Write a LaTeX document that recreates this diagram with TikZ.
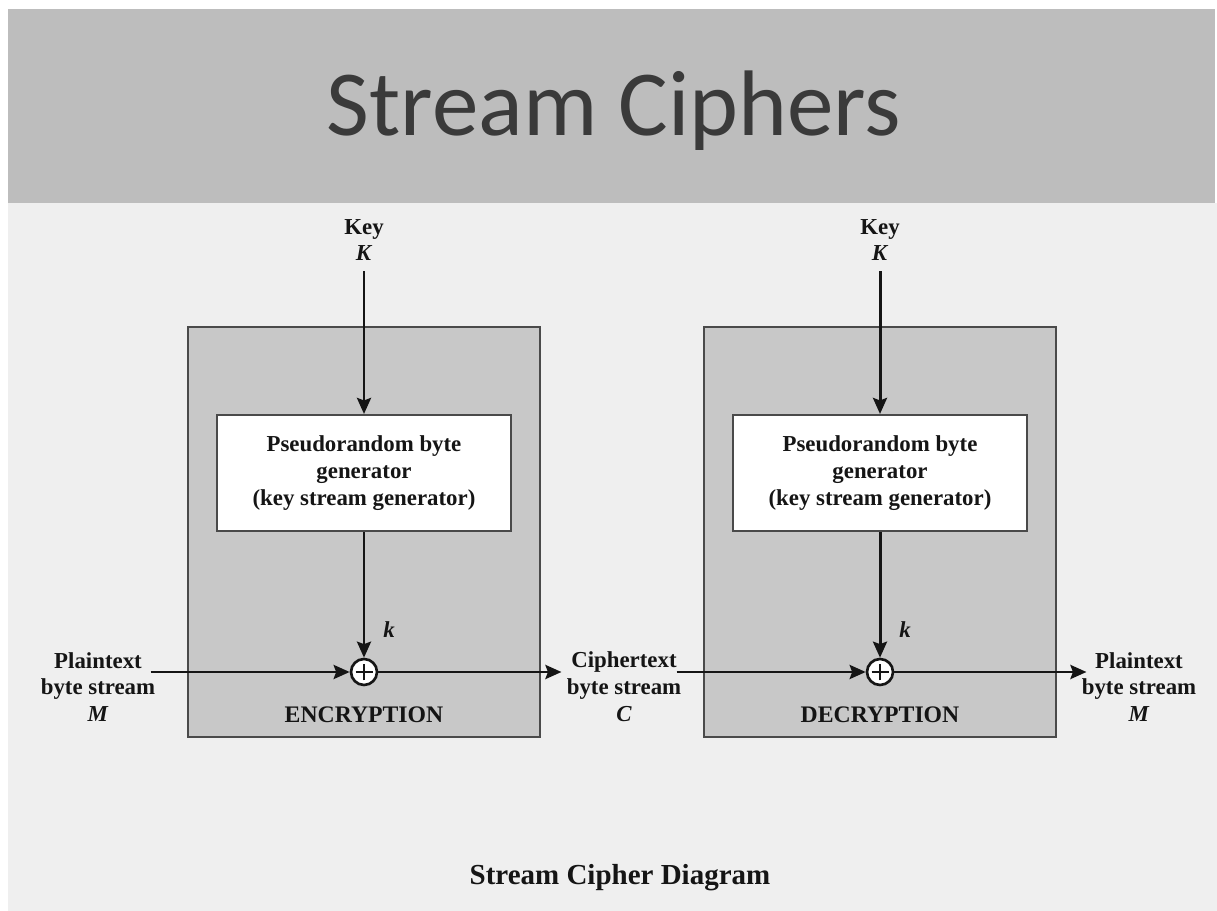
\documentclass[tikz,border=0pt]{standalone}
\usepackage{fontspec}
\setmainfont{Liberation Serif}
\newfontfamily\titlefont{Carlito}
\usetikzlibrary{arrows.meta}

\definecolor{headgray}{HTML}{BDBDBD}
\definecolor{paper}{HTML}{EFEFEF}
\definecolor{boxgray}{HTML}{C8C8C8}
\definecolor{edgegray}{HTML}{4A4A4A}
\definecolor{titleink}{HTML}{3A3A3A}
\definecolor{ink}{HTML}{151515}

\tikzset{
  lbl/.style={font=\bfseries\fontsize{13}{15.3}\selectfont, text=ink, align=center, inner sep=0pt},
  stagebox/.style={draw=edgegray, line width=1.2pt, fill=boxgray, minimum width=7.04cm, minimum height=8.2cm, inner sep=0pt},
  genbox/.style={draw=edgegray, line width=1.2pt, fill=white, minimum width=5.88cm, minimum height=2.32cm, lbl},
  xorop/.style={circle, draw=ink, line width=1.5pt, fill=white, minimum size=0.52cm, inner sep=0pt,
    path picture={\draw[ink, line width=1.3pt]
      ([xshift=-0.17cm]path picture bounding box.center) -- ([xshift=0.17cm]path picture bounding box.center)
      ([yshift=-0.17cm]path picture bounding box.center) -- ([yshift=0.17cm]path picture bounding box.center);}},
  flow/.style={draw=ink, line width=1.7pt, -{Stealth[length=0.32cm, width=0.28cm, inset=0.05cm]}},
}

\begin{document}
\begin{tikzpicture}[x=0.02cm, y=-0.02cm]
  \useasboundingbox (0,0) rectangle (1217,911);
  % page, header band and paper
  \fill[white] (0,0) rectangle (1217,911);
  \fill[paper] (8,203) rectangle (1217,911);
  \fill[headgray] (8,9) rectangle (1215,203);

  \node[anchor=base, text=titleink, inner sep=0pt, font=\titlefont\fontsize{53}{60}\selectfont] (title) at (614,136) {Stream Ciphers};

  % encryption stage
  \node[stagebox] (encbox) at (364,532) {};
  \node[genbox] (genE) at (364,473) {Pseudorandom byte\\generator\\(key stream generator)};
  \node[xorop] (xorE) at (364,672) {};
  \node[lbl] (keyE) at (364,240) {Key\\\textit{K}};
  \node[lbl] (kE) at (389,630) {\textit{k}};
  \node[lbl, font=\bfseries\fontsize{13.5}{15.3}\selectfont] (encL) at (364,715) {ENCRYPTION};

  % decryption stage
  \node[stagebox] (decbox) at (880,532) {};
  \node[genbox] (genD) at (880,473) {Pseudorandom byte\\generator\\(key stream generator)};
  \node[xorop] (xorD) at (880,672) {};
  \node[lbl] (keyD) at (880,240) {Key\\\textit{K}};
  \node[lbl] (kD) at (905,630) {\textit{k}};
  \node[lbl, font=\bfseries\fontsize{13.5}{15.3}\selectfont] (decL) at (880,715) {DECRYPTION};

  % stream labels
  \node[lbl] (ptL) at (98,687) {Plaintext\\byte stream\\\textit{M}};
  \node[lbl] (ctM) at (624,687) {Ciphertext\\byte stream\\\textit{C}};
  \node[lbl] (ptR) at (1139,687) {Plaintext\\byte stream\\\textit{M}};

  \node[lbl, font=\bfseries\fontsize{16.5}{20}\selectfont] (caption) at (620,878) {Stream Cipher Diagram};

  % connectors
  \draw[flow] ([yshift=-0.2cm]keyE.south) -- (genE.north);
  \draw[flow] (genE.south) -- (xorE.north);
  \draw[flow] ([yshift=-0.2cm]keyD.south) -- (genD.north);
  \draw[flow] (genD.south) -- (xorD.north);

  \draw[flow] ([xshift=-0.1cm]ptL.east |- xorE) -- (xorE.west);
  \draw[flow] (xorE.east) -- ([xshift=-0.1cm]ctM.west |- xorE);
  \draw[flow] ([xshift=-0.1cm]ctM.east |- xorD) -- (xorD.west);
  \draw[flow] (xorD.east) -- ([xshift=0.1cm]ptR.west |- xorD);
\end{tikzpicture}
\end{document}
